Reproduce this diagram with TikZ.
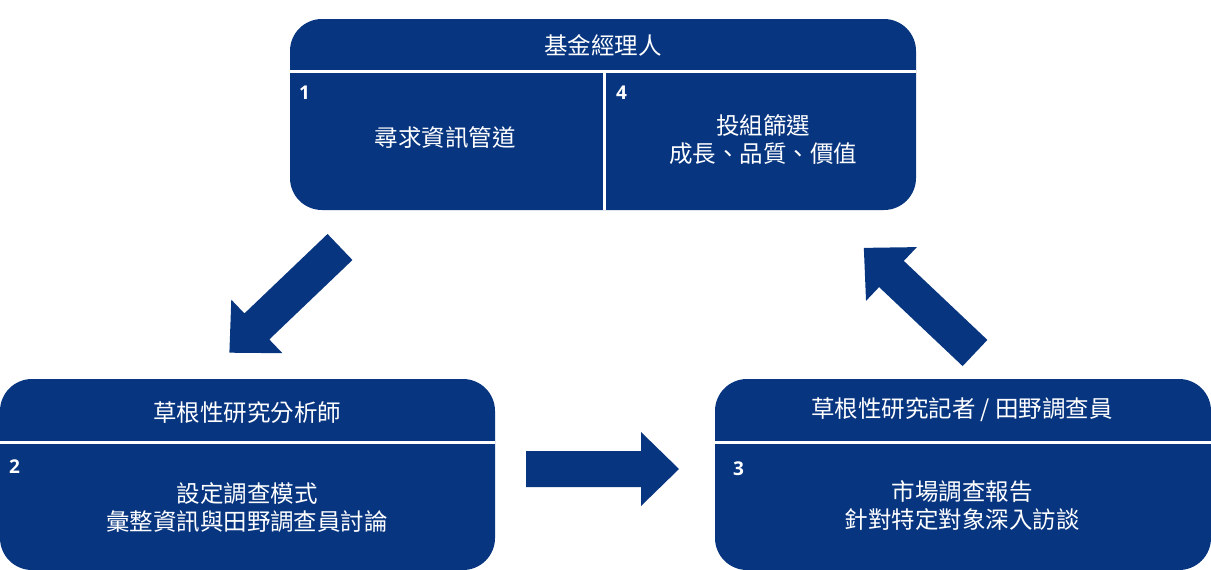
\documentclass[tikz,border=0pt]{standalone}
\usepackage{fontspec}
\newfontfamily\cjk{Noto Sans CJK TC}
\newfontfamily\numfont{Open Sans}
\definecolor{boxblue}{RGB}{7,53,128}
\tikzset{
  panel/.style={fill=boxblue, draw=none, rounded corners=32pt},
  divider/.style={draw=white, line width=3pt},
  title/.style={text=white, font=\cjk\fontsize{23.5}{28}\selectfont, align=center, inner sep=0pt},
  body/.style={text=white, font=\cjk\fontsize{23.5}{28}\selectfont, align=center, inner sep=0pt},
  num/.style={text=white, font=\numfont\bfseries\fontsize{19}{20}\selectfont, anchor=west, inner sep=0pt},
  blockarrow/.style={fill=boxblue, draw=none}
}
\begin{document}
\begin{tikzpicture}[x=1pt, y=-1pt]
\useasboundingbox (0,0) rectangle (1211,570);
% top panel
\fill[panel] (290,19) rectangle (916,210);
\draw[divider] (290,71.5) -- (916,71.5);
\draw[divider] (604,71.5) -- (604,210);
\node[title] (fm) at (603,45) {基金經理人};
\node[num] (n1) at (299,93) {1};
\node[num] (n4) at (616,93) {4};
\node[body] (t1) at (445,137) {尋求資訊管道};
\node[body] (t4) at (763,140) {投組篩選\\成長、品質、價值};
% bottom-left panel
\fill[panel] (0,379) rectangle (495,570);
\draw[divider] (0,442.5) -- (495,442.5);
\node[title] (ra) at (247,413) {草根性研究分析師};
\node[num] (n2) at (9,467) {2};
\node[body] (t2) at (247,508) {設定調查模式\\彙整資訊與田野調查員討論};
% bottom-right panel
\fill[panel] (715,379) rectangle (1211,570);
\draw[divider] (715,442.5) -- (1211,442.5);
\node[title] (rr) at (962,410) {草根性研究記者 / 田野調查員};
\node[num] (n3) at (733,469) {3};
\node[body] (t3) at (962,506) {市場調查報告\\針對特定對象深入訪談};
% block arrows: shaft 115 long, 36 wide; head 38 long, 74 wide
\coordinate (a1) at (340,247);
\coordinate (a2) at (526,469);
\coordinate (a3) at (975,353);
\foreach \c/\ang in {a1/-136.3, a2/0, a3/136.6}{
  \fill[blockarrow, shift={(\c)}, rotate=\ang]
    (0,-18) -- (115,-18) -- (115,-37) -- (153,0) -- (115,37) -- (115,18) -- (0,18) -- cycle;
}
\end{tikzpicture}
\end{document}
